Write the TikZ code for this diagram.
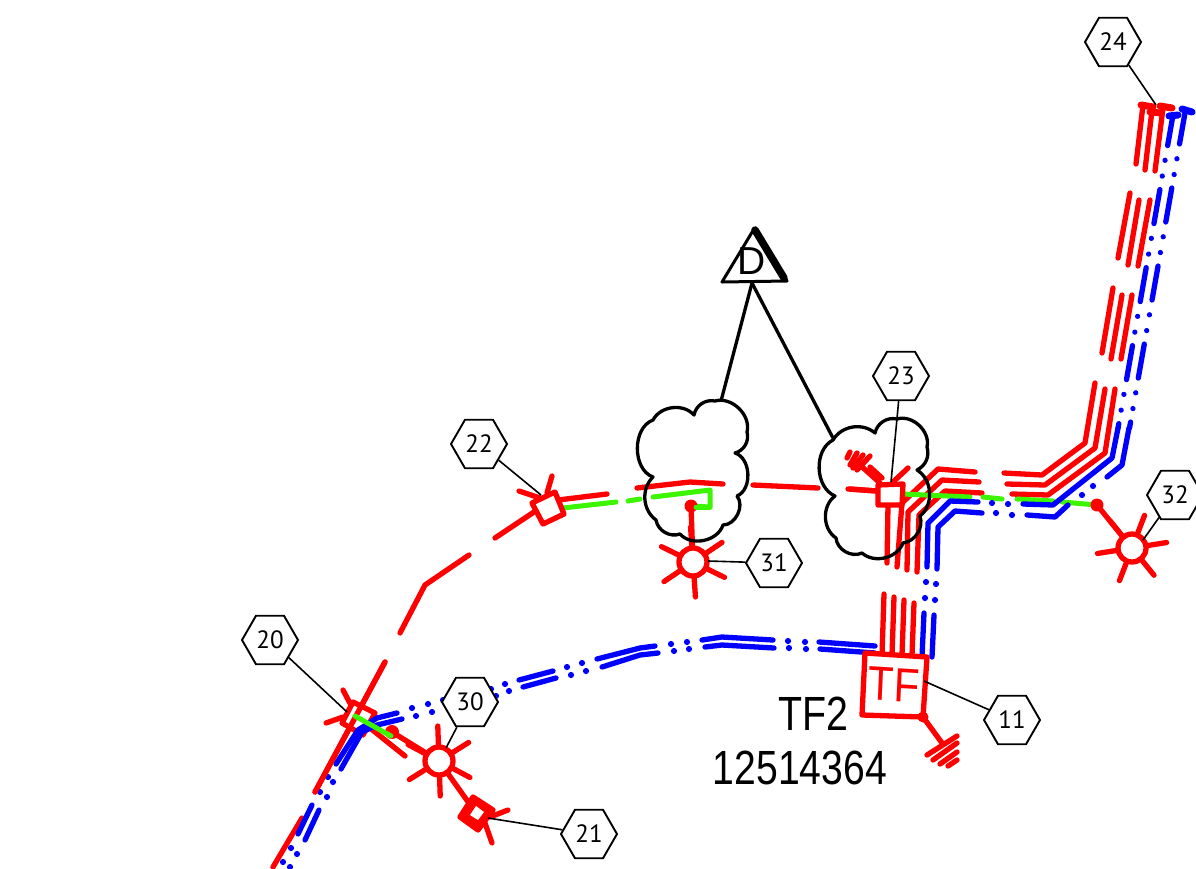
\documentclass[tikz,border=0pt]{standalone}
\usepackage{fontspec}
\setmainfont{Liberation Sans}
\newfontfamily\tagfont{PT Sans}
\usetikzlibrary{calc,shapes.geometric}
\definecolor{phase}{HTML}{FF0000}
\definecolor{ctrl}{HTML}{0000FF}
\definecolor{earth}{HTML}{3CF500}
\tikzset{
  phaseline/.style={line width=5.3pt, color=phase, line cap=round, line join=round},
  ctrlline/.style={line width=5.3pt, color=ctrl, line cap=round, line join=round},
  earthline/.style={line width=5pt, color=earth, line cap=round, line join=round},
  ctrlrun/.style={ctrlline, dash pattern=on 34.5pt off 15pt on 0.01pt off 16pt on 0.01pt off 13.7pt},
  ctrldot/.style={circle, fill=ctrl, inner sep=0pt, minimum size=6.2pt},
  cloudline/.style={line width=3.3pt, line join=round},
  leader/.style={line width=1.6pt},
  tagbox/.style={draw, line width=1.9pt, fill=white, regular polygon, regular polygon sides=6,
                 minimum size=56pt, inner sep=0pt, font=\tagfont\fontsize{25}{25}\selectfont},
  bigtext/.style={inner sep=0pt, font=\fontsize{48}{48}\selectfont}
}
% a round consumer mark with six rays
\newcommand{\rayedmark}[2]{
  \foreach \ang in {0,60,...,300}
    \draw[phaseline] ($(#1)+({\ang+#2}:16)$) -- ($(#1)+({\ang+#2}:35)$);
  \draw[phaseline, fill=white] (#1) circle (14);
}
\begin{document}
\begin{tikzpicture}[x=1pt, y=-1pt]
\useasboundingbox (0,0) rectangle (1196,868);

% the main points of the plan
\coordinate (Q20) at (358,717);
\coordinate (Q21) at (476,813);
\coordinate (Q22) at (548,508);
\coordinate (Q23) at (890,495);
\coordinate (S30) at (439,761);
\coordinate (S31) at (693,562);
\coordinate (S32) at (1132,548);
\coordinate (D30) at (392,732);
\coordinate (D31) at (691,506);
\coordinate (D32) at (1097,505);
\coordinate (Dapex) at (752,283);
\coordinate (Gnd) at (923,717);

% red feeder, bottom left to the second cloud
\draw[phaseline] (273,867) -- (302,818);
\draw[phaseline] (315,792) -- (385,662);
\draw[phaseline] (400,633) -- (425,585) -- (469,555);
\draw[phaseline] (495,538) -- (537,510);
\draw[phaseline] (558,500) -- (607,494);
\draw[phaseline] (637,488) -- (690,482) -- (723,484);
\draw[phaseline] (753,485) -- (818,488);
\draw[phaseline] (850,489) -- (877,491);

% red three lines, top right
\draw[phaseline] (1143,105) -- (1136,164);
\draw[phaseline] (1152,110) -- (1145,170);
\draw[phaseline] (1163,108) -- (1155,171);
\draw[phaseline, line width=7pt] (1141,105) -- (1153,107);
\draw[phaseline, line width=7pt] (1150,112) -- (1161,113);
\draw[phaseline, line width=7pt] (1160,106) -- (1172,108);
\draw[phaseline] (1130,193) -- (1118,258);
\draw[phaseline] (1139,200) -- (1128,265);
\draw[phaseline] (1150,200) -- (1138,266);
\draw[phaseline] (1113,288) -- (1102,353);
\draw[phaseline] (1122,295) -- (1111,359);
\draw[phaseline] (1132,295) -- (1121,359);
\draw[phaseline] (1095,383) -- (1085,443) -- (1042,475) -- (1004,473);
\draw[phaseline] (1105,389) -- (1095,448) -- (1045,485) -- (1007,484);
\draw[phaseline] (1115,389) -- (1105,453) -- (1048,495) -- (1012,494);

% red lines round the corner and down to TF
\draw[phaseline] (975,472) -- (938,469) -- (902,503) -- (897,567);
\draw[phaseline] (979,482) -- (942,480) -- (908,512) -- (907,570);
\draw[phaseline] (982,493) -- (945,491) -- (919,515) -- (917,572);
\draw[phaseline] (888,505) -- (887,563);
\draw[phaseline] (884,594) -- (882,655);
\draw[phaseline] (894,597) -- (892,655);
\draw[phaseline] (904,600) -- (902,655);
\draw[phaseline] (914,603) -- (912,655);

% green earth line
\draw[earthline] (563,508) -- (616,502);
\draw[earthline] (628,501) -- (640,499);
\draw[earthline] (653,497) -- (710,490) -- (710,507) -- (D31);
\draw[earthline] (903,494) -- (970,497);
\draw[earthline] (983,497) -- (1002,499);
\draw[earthline] (1017,499) -- (1053,501);
\draw[earthline] (1062,502) -- (D32);

% blue double line, top right
\draw[ctrlline, line width=7pt] (1169,116) -- (1178,115);
\draw[ctrlline, line width=7pt] (1182,109) -- (1192,112);
\draw[ctrlrun, dash phase=3.5pt] (1173,115) -- (1118,428);
\draw[ctrlrun, dash phase=0pt] (1185.5,110) -- (1129.5,428);
\draw[ctrlline] (1118,428) -- (1112,458) -- (1053,505) -- (1023,504);
\draw[ctrlline] (1129,428) -- (1122,465) -- (1107,477);
\node[ctrldot] (b1) at (1093,486) {};
\node[ctrldot] (b2) at (1082,495) {};
\draw[ctrlline] (1068,505) -- (1055,517) -- (1027,515);
\node[ctrldot] (b3) at (992,503) {};
\node[ctrldot] (b4) at (1008,504) {};
\node[ctrldot] (b5) at (996,513) {};
\node[ctrldot] (b6) at (1012,515) {};
\draw[ctrlline] (978,502) -- (950,501) -- (928,523) -- (927,567);
\draw[ctrlline] (982,513) -- (955,511) -- (938,527) -- (937,569);
\node[ctrldot] (b7) at (926,582) {};
\node[ctrldot] (b8) at (936,584) {};
\node[ctrldot] (b9) at (925,598) {};
\node[ctrldot] (b10) at (935,600) {};
\draw[ctrlline] (924,613) -- (922,657);
\draw[ctrlline] (934,615) -- (932,657);

% blue double line, TF to bottom left
\draw[ctrlline] (875,646) -- (819,642);
\draw[ctrlline] (875,653) -- (820,649);
\node[ctrldot] (b11) at (805,642) {};
\node[ctrldot] (b12) at (788,641) {};
\node[ctrldot] (b13) at (806,649) {};
\node[ctrldot] (b14) at (789,648) {};
\draw[ctrlline] (773,640) -- (722,637) -- (702,640);
\draw[ctrlline] (774,648) -- (722,645) -- (705,647);
\node[ctrldot] (b15) at (687,642) {};
\node[ctrldot] (b16) at (671,644) {};
\node[ctrldot] (b17) at (689,649) {};
\node[ctrldot] (b18) at (674,651) {};
\draw[ctrlline] (655,646) -- (640,648) -- (597,659);
\draw[ctrlline] (658,653) -- (640,655) -- (602,667);
\node[ctrldot] (b19) at (582,663) {};
\node[ctrldot] (b20) at (567,667) {};
\node[ctrldot] (b21) at (586,671) {};
\node[ctrldot] (b22) at (571,675) {};
\draw[ctrlline] (553,671) -- (519,680);
\draw[ctrlline] (556,678) -- (523,687);
\node[ctrldot] (b23) at (505,684) {};
\node[ctrldot] (b24) at (491,689) {};
\node[ctrldot] (b25) at (509,691) {};
\node[ctrldot] (b26) at (496,696) {};
\node[ctrldot] (b27) at (443,700) {};
\node[ctrldot] (b28) at (428,704) {};
\node[ctrldot] (b29) at (412,708) {};
\node[ctrldot] (b30) at (432,712) {};
\node[ctrldot] (b31) at (416,716) {};

% square 22
\draw[phaseline] (552,476) -- (547,493);
\draw[phaseline] (519,491) -- (540,498);
\draw[phaseline, fill=white] (532,503) -- (555,492) -- (564,514) -- (543,524) -- cycle;

% square 20 with its dot and rays
\draw[phaseline] (343,690) -- (352,707);
\draw[phaseline] (326,723) -- (343,717);
\draw[phaseline] (405,756) -- (370,728);
\draw[phaseline, fill=white] (353,702) -- (375,713) -- (363,735) -- (342,723) -- cycle;
\draw[ctrlline] (397,713) -- (377,718) -- (358,730) -- (336,764);
\draw[ctrlline] (402,719) -- (377,725) -- (362,732) -- (341,769);
\node[ctrldot] (b32) at (328,777) {};
\node[ctrldot] (b33) at (333,782) {};
\node[ctrldot] (b34) at (320,792) {};
\node[ctrldot] (b35) at (327,797) {};
\draw[ctrlline] (312,805) -- (298,834);
\draw[ctrlline] (319,810) -- (305,840);
\node[ctrldot] (b36) at (291,848) {};
\node[ctrldot] (b37) at (297,854) {};
\node[ctrldot] (b38) at (283,862) {};
\node[ctrldot] (b39) at (290,867) {};
\draw[phaseline] (315,792) -- (385,662);

% marks 30 and 21
\draw[phaseline] (D30) -- (S30);
\draw[phaseline] (S30) -- (Q21);
\fill[phase] (D30) circle (7);
\draw[earthline] (355,716) -- (391,736);
\rayedmark{S30}{28}
\draw[phaseline] (508,810) -- (490,817);
\draw[phaseline] (492,843) -- (485,823);
\draw[phaseline, fill=phase] (473,797) -- (493,810) -- (478,830) -- (460,817) -- cycle;
\fill[white] (476,806) -- (484,812) -- (478,820) -- (470,815) -- cycle;

% mark 31
\draw[phaseline] (D31) -- (S31);
\fill[phase] (D31) circle (6.5);
\draw[earthline] (710,507) -- (696,507);
\rayedmark{S31}{26}

% mark 32
\draw[phaseline] (D32) -- (S32);
\draw[phaseline] (D32) circle (4);
\rayedmark{S32}{-9}

% square 23 and its earthing
\draw[phaseline] (880,483) -- (860,465);
\draw[phaseline] (870,456) -- (857,470);
\draw[phaseline] (863,455) -- (853,468);
\draw[phaseline] (857,453) -- (850,465);
\draw[phaseline] (850,452) -- (847,458);
\draw[phaseline] (870,467) -- (882,478);
\draw[phaseline] (908,468) -- (893,482);
\draw[phaseline] (848,489) -- (877,491);
\draw[phaseline, fill=white] (878,485) -- (903,484) -- (902,505) -- (878,505) -- cycle;

% transformer box
\draw[phaseline, fill=white] (865,653) -- (927,657) -- (923,717) -- (862,715) -- cycle;
\node[bigtext, phase, xscale=.87, rotate=-3] (tf) at (894,685) {TF};
\fill[phase] (Gnd) circle (5.5);
\draw[phaseline] (Gnd) -- (942,743);
\draw[phaseline] (957,736) -- (927,755);
\draw[phaseline] (957,743) -- (933,760);
\draw[phaseline] (957,752) -- (940,764);
\draw[phaseline] (957,760) -- (948,766);

% two clouds
\draw[cloudline] (694,415) to[bend left=45] (715,401) to[bend left=60] (747,432) to[bend left=45] (735,453)
  to[bend left=70] (737,496) to[bend left=65] (723,525) to[bend left=60] (680,534)
  to[bend left=50] (656,520) to[bend left=50] (653,477) to[bend left=70] (653,420)
  to[bend left=55] cycle;
\draw[cloudline] (875,433) to[bend left=45] (897,419) to[bend left=60] (927,447) to[bend left=40] (917,470)
  to[bend left=55] (920,516) to[bend left=50] (903,543) to[bend left=55] (862,553)
  to[bend left=55] (836,538) to[bend left=55] (835,496) to[bend left=65] (833,440)
  to[bend left=50] cycle;

% triangle with the thick side
\draw[line width=3pt, line join=round, fill=white] (722,282) -- (754,229) -- (787,281) -- cycle;
\draw[line width=7.5pt, line cap=round] (755,230) -- (784,278);
\node[inner sep=0pt, font=\fontsize{39}{39}\selectfont] (dlabel) at (752,261) {D};
\draw[line width=3.3pt] (Dapex) -- (721,401);
\draw[line width=3.3pt] (Dapex) -- (833,438);

% texts beside the box
\node[bigtext, xscale=.82] (tfname) at (813,714) {TF2};
\node[bigtext, xscale=.815] (tfnum) at (800,768) {12514364};

% numbered tags and their leaders
\node[tagbox] (tag11) at (1012,720) {11};
\node[tagbox] (tag20) at (270,640) {20};
\node[tagbox] (tag21) at (589,834) {21};
\node[tagbox] (tag22) at (479,444) {22};
\node[tagbox] (tag23) at (901,376) {23};
\node[tagbox] (tag24) at (1113,42) {24};
\node[tagbox] (tag30) at (470,702) {30};
\node[tagbox] (tag31) at (774,563) {31};
\node[tagbox] (tag32) at (1175,495) {32};
\draw[leader] (924,681) -- (tag11);
\draw[leader] (347,712) -- (tag20);
\draw[leader] (488,818) -- (tag21);
\draw[leader] (541,495) -- (tag22);
\draw[leader] (891,482) -- (tag23);
\draw[leader] (1156,105) -- (tag24);
\draw[leader] (446,748) -- (tag30);
\draw[leader] (708,561) -- (tag31);
\draw[leader] (1143,540) -- (tag32);
\end{tikzpicture}
\end{document}
